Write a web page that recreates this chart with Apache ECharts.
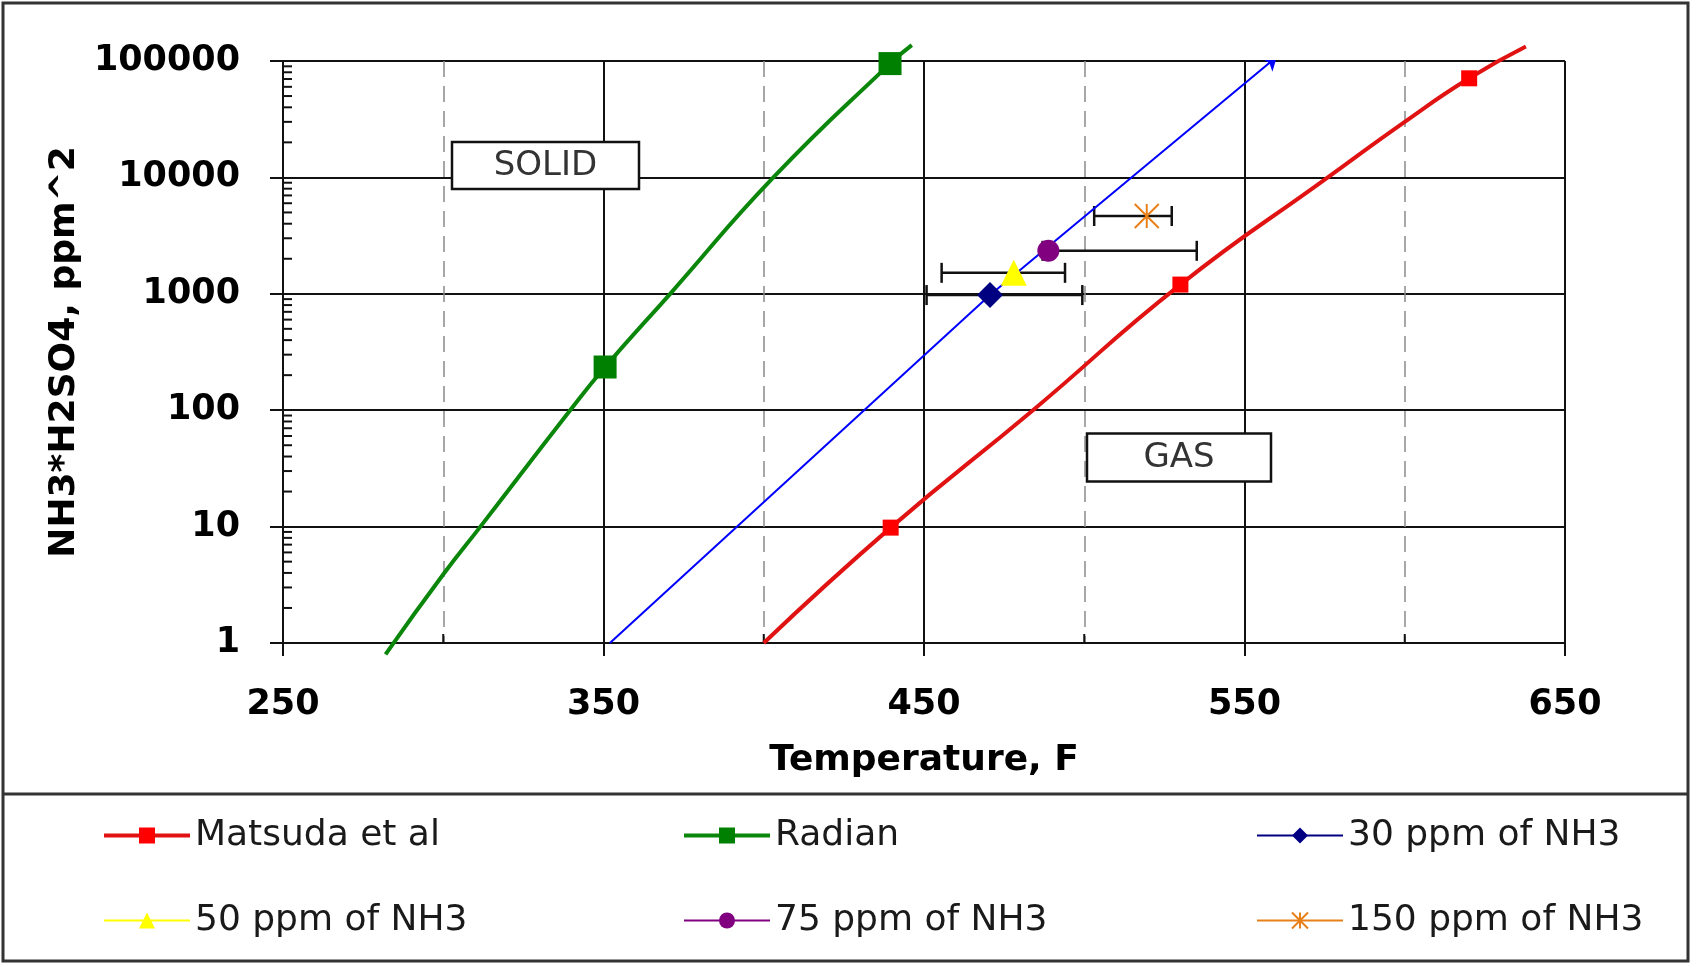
<!DOCTYPE html>
<html>
<head>
<meta charset="utf-8">
<script src="https://cdn.jsdelivr.net/npm/echarts@6/dist/echarts.min.js"></script>
<style>html,body{margin:0;padding:0;background:#fff}#c{width:1691px;height:974px}</style>
</head>
<body>
<div id="c"></div>
<script>
// ---------- data ----------
const xTickValues = [250, 350, 450, 550, 650];
const yTickValues = [1, 10, 100, 1000, 10000, 100000];
const yMinorFactors = [2, 3, 4, 5, 6, 7, 8, 9];
const xMinorValues = [300, 400, 500, 600];

// Matsuda et al curve (temperature F, NH3*H2SO4 ppm^2)
const matsudaT = [400, 439.6, 484, 576, 600, 637.8];
const matsudaV = [1, 9.8, 100, 10000, 30000, 133000];
const matsudaMarkT = [439.6, 530, 620.1];
const matsudaMarkV = [9.8, 1200, 71000];

// Radian curve
const radianT = [282, 300.2, 311.6, 339.6, 370.8, 403, 446.2];
const radianV = [0.8, 3.95, 10, 100, 1000, 10000, 137000];
const radianMarkT = [350.5, 439.4];
const radianMarkV = [235, 95000];

// blue arrow line
const blueT = [352, 470.6, 560.1];
const blueV = [1, 975, 108900];

// measured points: [temperature, value] and error bar [low, high]
const ppm30Point = [470.6, 975];
const ppm30Err = [450.8, 499.4];
const ppm50Point = [478, 1514];
const ppm50Err = [455.5, 494];
const ppm75Point = [488.8, 2340];
const ppm75Err = [487, 535.1];
const ppm150Point = [519.5, 4660];
const ppm150Err = [503.1, 527.3];

const seriesNames = ['Matsuda et al', 'Radian', '30 ppm of NH3', '50 ppm of NH3', '75 ppm of NH3', '150 ppm of NH3'];

// ---------- build ----------
const FONT = 'DejaVu Sans';

function curveData(T, V, mT, mV) {
  const pts = T.map((t, i) => ({ value: [t, V[i]], symbol: 'none' }));
  mT.forEach((t, i) => pts.push({ value: [t, mV[i]] }));
  pts.sort((a, b) => a.value[0] - b.value[0]);
  return pts;
}

const errData = [
  [ppm30Err[0], ppm30Err[1], ppm30Point[1]],
  [ppm50Err[0], ppm50Err[1], ppm50Point[1]],
  [ppm75Err[0], ppm75Err[1], ppm75Point[1]],
  [ppm150Err[0], ppm150Err[1], ppm150Point[1]]
];

const minorTickData = [];
for (let d = 0; d < yTickValues.length - 1; d++) {
  yMinorFactors.forEach(f => minorTickData.push([xTickValues[0], yTickValues[d] * f, 0]));
}
xMinorValues.forEach(t => minorTickData.push([t, yTickValues[0], 1]));

function renderErr(params, api) {
  const y = api.value(2);
  const a = api.coord([api.value(0), y]);
  const b = api.coord([api.value(1), y]);
  const h = 10;
  const st = { stroke: '#111', lineWidth: 2.5 };
  return {
    type: 'group',
    children: [
      { type: 'line', shape: { x1: a[0], y1: a[1], x2: b[0], y2: b[1] }, style: st },
      { type: 'line', shape: { x1: a[0], y1: a[1] - h, x2: a[0], y2: a[1] + h }, style: st },
      { type: 'line', shape: { x1: b[0], y1: b[1] - h, x2: b[0], y2: b[1] + h }, style: st }
    ]
  };
}

function renderMinorTick(params, api) {
  const p = api.coord([api.value(0), api.value(1)]);
  const kind = api.value(2);
  const st = { stroke: '#111', lineWidth: 2 };
  if (kind === 0) {
    return { type: 'line', shape: { x1: p[0], y1: p[1], x2: p[0] + 9, y2: p[1] }, style: st };
  }
  return { type: 'line', shape: { x1: p[0], y1: p[1], x2: p[0], y2: p[1] - 9 }, style: st };
}

const chart = echarts.init(document.getElementById('c'), null, { renderer: 'canvas' });

const legendBase = {
  orient: 'vertical',
  top: 810,
  itemWidth: 86,
  itemHeight: 20,
  itemGap: 44,
  textStyle: { fontFamily: FONT, fontSize: 36, color: '#1a1a1a', lineHeight: 41 },
  selectedMode: false
};
const thick = { lineStyle: { width: 4 } };
const thin = { lineStyle: { width: 2 } };

const option = {
  backgroundColor: '#fff',
  animation: false,
  grid: { left: 283, top: 61, width: 1282, height: 582, show: false },
  xAxis: {
    type: 'value',
    min: xTickValues[0],
    max: xTickValues[xTickValues.length - 1],
    interval: xTickValues[1] - xTickValues[0],
    name: 'Temperature, F',
    nameLocation: 'middle',
    nameGap: 100,
    nameTextStyle: { fontFamily: FONT, fontSize: 36, fontWeight: 'bold', color: '#000' },
    axisLine: { show: true, lineStyle: { color: '#111', width: 2 } },
    axisTick: { show: true, length: 13, lineStyle: { color: '#111', width: 2 } },
    minorTick: { show: false, splitNumber: 2 },
    axisLabel: { margin: 44, fontFamily: FONT, fontSize: 35, fontWeight: 'bold', color: '#000' },
    splitLine: { show: true, lineStyle: { color: '#111', width: 2 } },
    minorSplitLine: { show: true, lineStyle: { color: '#8a8a8a', width: 1.5, type: [16, 9] } }
  },
  yAxis: {
    type: 'log',
    logBase: 10,
    min: yTickValues[0],
    max: yTickValues[yTickValues.length - 1],
    name: 'NH3*H2SO4, ppm^2',
    nameLocation: 'middle',
    nameGap: 198,
    nameTextStyle: { fontFamily: FONT, fontSize: 36, fontWeight: 'bold', color: '#000' },
    axisLine: { show: true, lineStyle: { color: '#111', width: 2 } },
    axisTick: { show: true, length: 13, lineStyle: { color: '#111', width: 2 } },
    axisLabel: {
      margin: 43, fontFamily: FONT, fontSize: 35, fontWeight: 'bold', color: '#000',
      formatter: v => String(Math.round(v))
    },
    splitLine: { show: true, lineStyle: { color: '#111', width: 2 } }
  },
  legend: [
    Object.assign({}, legendBase, { left: 97, data: [
      Object.assign({ name: seriesNames[0] }, thick), Object.assign({ name: seriesNames[3] }, thin)] }),
    Object.assign({}, legendBase, { left: 677, data: [
      Object.assign({ name: seriesNames[1] }, thick), Object.assign({ name: seriesNames[4] }, thin)] }),
    Object.assign({}, legendBase, { left: 1251, data: [
      Object.assign({ name: seriesNames[2] }, thin), Object.assign({ name: seriesNames[5] }, thin)] })
  ],
  graphic: [
    { type: 'rect', silent: true, z: 100, shape: { x: 3, y: 3, width: 1685, height: 958 },
      style: { fill: 'none', stroke: '#333', lineWidth: 3 } },
    { type: 'line', silent: true, z: 100, shape: { x1: 3, y1: 794, x2: 1688, y2: 794 },
      style: { stroke: '#333', lineWidth: 3 } },
    { type: 'rect', silent: true, z: 50, shape: { x: 452, y: 142, width: 187, height: 47 },
      style: { fill: '#fff', stroke: '#111', lineWidth: 2.5 } },
    { type: 'text', silent: true, z: 51, x: 545.5, y: 166,
      style: { text: 'SOLID', fill: '#333', font: '34px "DejaVu Sans"', align: 'center', verticalAlign: 'middle' } },
    { type: 'rect', silent: true, z: 50, shape: { x: 1087, y: 433.5, width: 184, height: 48 },
      style: { fill: '#fff', stroke: '#111', lineWidth: 2.5 } },
    { type: 'text', silent: true, z: 51, x: 1179, y: 458,
      style: { text: 'GAS', fill: '#333', font: '34px "DejaVu Sans"', align: 'center', verticalAlign: 'middle' } }
  ],
  series: [
    {
      name: 'minor ticks', type: 'custom', coordinateSystem: 'cartesian2d', silent: true, z: 1,
      encode: { x: 0, y: 1 }, renderItem: renderMinorTick, data: minorTickData, clip: false
    },
    {
      name: 'error bars', type: 'custom', coordinateSystem: 'cartesian2d', silent: true, z: 2,
      encode: { x: [0, 1], y: 2 }, renderItem: renderErr, data: errData
    },
    {
      name: seriesNames[0], type: 'line', clip: false, smooth: 0.5, z: 4,
      symbol: 'rect', symbolSize: 16,
      itemStyle: { color: '#ff0000' },
      lineStyle: { color: '#e01212', width: 4 },
      data: curveData(matsudaT, matsudaV, matsudaMarkT, matsudaMarkV)
    },
    {
      name: seriesNames[1], type: 'line', clip: false, smooth: 0.5, z: 4,
      symbol: 'rect', symbolSize: 23,
      itemStyle: { color: '#008000' },
      lineStyle: { color: '#0a870a', width: 4 },
      data: curveData(radianT, radianV, radianMarkT, radianMarkV)
    },
    {
      name: 'blue line', type: 'line', clip: false, smooth: false, z: 3, silent: true,
      symbol: 'none', lineStyle: { color: '#0000ff', width: 2 },
      data: blueT.slice(0, -1).map((t, i) => [t, blueV[i]])
    },
    {
      name: 'blue arrow', type: 'lines', coordinateSystem: 'cartesian2d', polyline: false, silent: true, z: 3,
      symbol: ['none', 'arrow'], symbolSize: [0, 13],
      lineStyle: { color: '#0000ff', width: 2, opacity: 1, curveness: 0 },
      data: [{ coords: [[blueT[blueT.length - 2], blueV[blueV.length - 2]], [blueT[blueT.length - 1], blueV[blueV.length - 1]]] }]
    },
    {
      name: seriesNames[2], type: 'line', clip: false, z: 6,
      symbol: 'diamond', symbolSize: 26,
      itemStyle: { color: '#000080' }, lineStyle: { color: '#000080', width: 2 },
      data: [ppm30Point]
    },
    {
      name: seriesNames[3], type: 'line', clip: false, z: 5,
      symbol: 'triangle', symbolSize: 26,
      itemStyle: { color: '#ffff00' }, lineStyle: { color: '#ffff00', width: 2 },
      data: [ppm50Point]
    },
    {
      name: seriesNames[4], type: 'line', clip: false, z: 6,
      symbol: 'circle', symbolSize: 22,
      itemStyle: { color: '#800080' }, lineStyle: { color: '#800080', width: 2 },
      data: [ppm75Point]
    },
    {
      name: seriesNames[5], type: 'line', clip: false, z: 6,
      symbol: 'path://M0,-10L0,10M-10,-10L10,10M-10,10L10,-10', symbolSize: 24,
      itemStyle: { color: '#e8801a', borderColor: '#e8801a', borderWidth: 2 },
      lineStyle: { color: '#e8801a', width: 2 },
      data: [ppm150Point]
    }
  ]
};

chart.setOption(option);
</script>
</body>
</html>
